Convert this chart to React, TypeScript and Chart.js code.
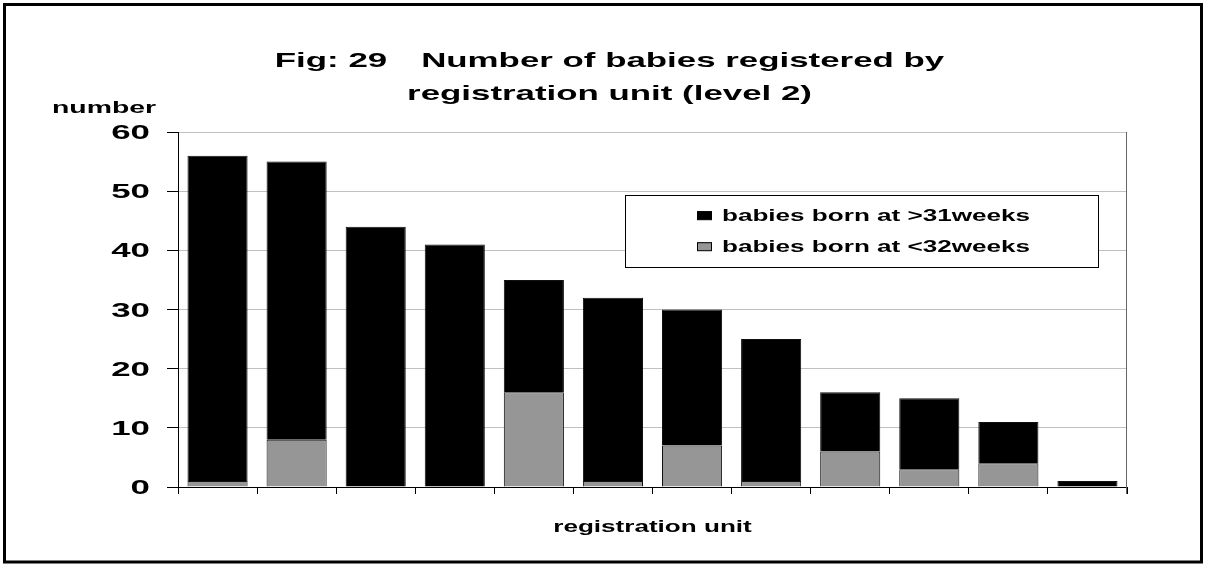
import React, { useEffect, useRef } from "react";
import { Chart, registerables } from "chart.js";

Chart.register(...registerables);

// ---- data ----
const units = ["1", "2", "3", "4", "5", "6", "7", "8", "9", "10", "11", "12"];
const over31Weeks = [55, 47, 44, 41, 19, 31, 23, 24, 10, 12, 7, 1];
const under32Weeks = [1, 8, 0, 0, 16, 1, 7, 1, 6, 3, 4, 0];
const seriesLabels = ["babies born at >31weeks", "babies born at <32weeks"];
const titleLead = "Fig: 29";
const titleLine1 = "Number of babies registered by";
const titleLine2 = "registration unit (level 2)";
const yAxisTitle = "number";
const xAxisTitle = "registration unit";
const yMin = 0;
const yMax = 60;
const yStep = 10;

const FONT = '"Liberation Sans", Arial, Helvetica, sans-serif';

function drawStretched(
  ctx: CanvasRenderingContext2D,
  text: string,
  x: number,
  y: number,
  size: number,
  sx: number,
  align: "left" | "center" | "right"
) {
  ctx.save();
  ctx.font = `bold ${size}px ${FONT}`;
  ctx.textBaseline = "alphabetic";
  ctx.textAlign = "left";
  const w = ctx.measureText(text).width * sx;
  let left = x;
  if (align === "center") left = x - w / 2;
  else if (align === "right") left = x - w;
  ctx.translate(left, y);
  ctx.scale(sx, 1);
  ctx.fillStyle = "#000";
  ctx.fillText(text, 0, 0);
  ctx.restore();
  return w;
}

function measureStretched(ctx: CanvasRenderingContext2D, text: string, size: number, sx: number) {
  ctx.save();
  ctx.font = `bold ${size}px ${FONT}`;
  const w = ctx.measureText(text).width * sx;
  ctx.restore();
  return w;
}

const decorPlugin = {
  id: "decor",
  beforeDraw(chart: any) {
    const { ctx, width, height } = chart;
    ctx.save();
    ctx.fillStyle = "#fff";
    ctx.fillRect(0, 0, width, height);
    ctx.restore();
  },
  afterDraw(chart: any) {
    const { ctx, chartArea, scales } = chart;
    const yScale = scales.y;

    // right border of plot area
    ctx.save();
    ctx.strokeStyle = "#666";
    ctx.lineWidth = 1;
    ctx.beginPath();
    ctx.moveTo(Math.round(chartArea.right) - 0.5, chartArea.top);
    ctx.lineTo(Math.round(chartArea.right) - 0.5, chartArea.bottom + 7);
    ctx.stroke();
    ctx.restore();

    // y tick labels
    yScale.ticks.forEach((t: any) => {
      const py = yScale.getPixelForValue(t.value);
      drawStretched(ctx, String(t.value), chartArea.left - 28, py + 7, 20.5, 1.7, "right");
    });

    // title
    const tSize = 21;
    const tSx = 1.66;
    const gap = 34;
    const w1 = measureStretched(ctx, titleLead, tSize, tSx);
    const w2 = measureStretched(ctx, titleLine1, tSize, tSx);
    const cx = 609.5;
    const start = cx - (w1 + gap + w2) / 2;
    drawStretched(ctx, titleLead, start, 67, tSize, tSx, "left");
    drawStretched(ctx, titleLine1, start + w1 + gap, 67, tSize, tSx, "left");
    drawStretched(ctx, titleLine2, cx, 100, tSize, tSx, "center");

    // y axis title
    drawStretched(ctx, yAxisTitle, 52, 113, 17, 1.67, "left");

    // x axis title
    drawStretched(ctx, xAxisTitle, (chartArea.left + chartArea.right) / 2, 532, 16, 1.63, "center");

    // legend
    const lx = 625.5, ly = 195.5, lw = 473, lh = 72;
    ctx.save();
    ctx.fillStyle = "#fff";
    ctx.fillRect(lx, ly, lw, lh);
    ctx.strokeStyle = "#000";
    ctx.lineWidth = 1;
    ctx.strokeRect(lx, ly, lw, lh);
    ctx.restore();
    const ds = chart.data.datasets;
    const order = [1, 0];
    const baselines = [220.7, 251.7];
    order.forEach((di, i) => {
      const d = ds[di];
      const by = baselines[i];
      ctx.save();
      ctx.fillStyle = d.backgroundColor;
      ctx.fillRect(697, by - 9.5, 15, 8.5);
      ctx.strokeStyle = "#000";
      ctx.lineWidth = 1;
      ctx.strokeRect(697.5, by - 9, 14, 8);
      ctx.restore();
      drawStretched(ctx, d.label, 722, by, 16, 1.63, "left");
    });

    // outer frame
    ctx.save();
    ctx.strokeStyle = "#000";
    ctx.lineWidth = 3;
    ctx.strokeRect(4.5, 4.5, 1197, 557.5);
    ctx.restore();
  },
};

const edge = (c: any) => (c.raw === 0 ? 0 : 1);

export default function App() {
  const ref = useRef<HTMLCanvasElement | null>(null);

  useEffect(() => {
    if (!ref.current) return;
    const chart = new Chart(ref.current, {
      type: "bar",
      data: {
        labels: units,
        datasets: [
          {
            label: seriesLabels[1],
            data: under32Weeks,
            backgroundColor: "#969696",
            borderColor: "#111",
            borderWidth: edge,
            barPercentage: 0.76,
            categoryPercentage: 1,
          },
          {
            label: seriesLabels[0],
            data: over31Weeks,
            backgroundColor: "#000",
            borderColor: "#111",
            borderWidth: edge,
            barPercentage: 0.76,
            categoryPercentage: 1,
          },
        ],
      },
      options: {
        animation: false,
        responsive: false,
        maintainAspectRatio: false,
        devicePixelRatio: 1,
        layout: { padding: { top: 132, right: 80, left: 0, bottom: 0 } },
        plugins: {
          legend: { display: false },
          title: { display: false },
          tooltip: { enabled: false },
        },
        scales: {
          x: {
            stacked: true,
            ticks: { display: false },
            grid: {
              offset: true,
              drawOnChartArea: false,
              drawTicks: true,
              tickLength: 7,
              tickColor: "#000",
              tickWidth: 1,
            },
            border: { color: "#000", width: 1 },
            afterFit(s: any) {
              s.height = 79;
            },
          },
          y: {
            stacked: true,
            min: yMin,
            max: yMax,
            ticks: { display: false, stepSize: yStep },
            grid: {
              color: "#c0c0c0",
              drawTicks: true,
              tickLength: 11,
              tickColor: "#000",
              tickWidth: 1,
            },
            border: { color: "#000", width: 1 },
            afterFit(s: any) {
              s.width = 178;
            },
          },
        },
      },
      plugins: [decorPlugin],
    } as any);
    return () => chart.destroy();
  }, []);

  return (
    <div style={{ position: "fixed", left: 0, top: 0, width: 1207, height: 566, background: "#fff" }}>
      <canvas ref={ref} width={1207} height={566} style={{ display: "block" }} />
    </div>
  );
}
